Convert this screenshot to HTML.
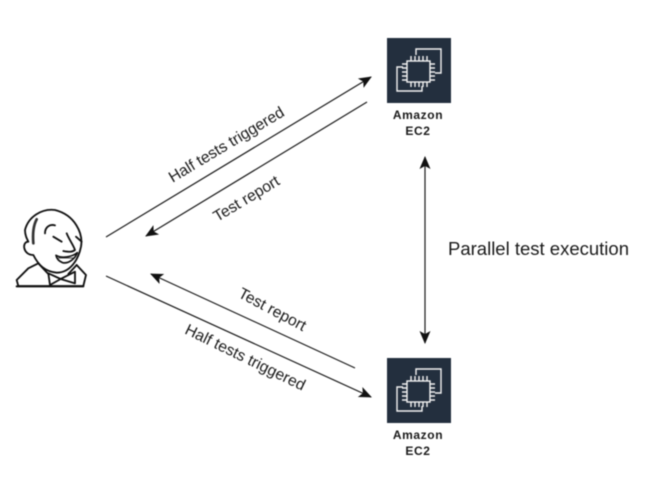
<!DOCTYPE html>
<html>
<head>
<meta charset="utf-8">
<style>
html,body{margin:0;padding:0;background:#fff;width:658px;height:495px;overflow:hidden}
svg{display:block;filter:blur(.5px)}
text{font-family:"Liberation Sans",sans-serif;fill:#1a1a1a}
</style>
</head>
<body>
<svg width="658" height="495" viewBox="0 0 658 495" xmlns="http://www.w3.org/2000/svg">
<defs>
<g id="ec2">
  <rect x="0" y="0" width="64" height="65" fill="#232f3e"/>
  <g fill="none" stroke="#f2f2f2" stroke-width="1.4">
    <path d="M29 17V11H54V35H48"/>
    <path d="M16 29H10V53H35V48"/>
    <rect x="20" y="23" width="23" height="21"/>
    <path d="M24 18v5M28 18v5M32 18v5M36 18v5M40 18v5M24 44v5M28 44v5M32 44v5M36 44v5M40 44v5M15 26h5M15 30h5M15 34h5M15 38h5M15 42h5M43 26h5M43 30h5M43 34h5M43 38h5M43 42h5"/>
  </g>
</g>
<marker id="a" markerWidth="14" markerHeight="12" refX="12" refY="6" orient="auto-start-reverse" markerUnits="userSpaceOnUse">
  <path d="M0 0.5L13 6L0 11.5L3 6Z" fill="#111"/>
</marker>
</defs>

<use href="#ec2" x="387" y="38"/>
<use href="#ec2" x="387" y="358"/>
<text x="418" y="119" text-anchor="middle" font-size="12" font-weight="700" letter-spacing=".6">Amazon</text>
<text x="418" y="135" text-anchor="middle" font-size="12" font-weight="700" letter-spacing=".6">EC2</text>
<text x="418" y="439" text-anchor="middle" font-size="12" font-weight="700" letter-spacing=".6">Amazon</text>
<text x="418" y="455" text-anchor="middle" font-size="12" font-weight="700" letter-spacing=".6">EC2</text>

<g stroke="#1a1a1a" stroke-width="1.2" fill="none">
  <line x1="106" y1="237" x2="371" y2="77" marker-end="url(#a)"/>
  <line x1="367" y1="102" x2="146" y2="236" marker-end="url(#a)"/>
  <line x1="355" y1="368" x2="151" y2="274" marker-end="url(#a)"/>
  <line x1="106" y1="276" x2="371" y2="397" marker-end="url(#a)"/>
  <line x1="425" y1="157" x2="425" y2="343" marker-start="url(#a)" marker-end="url(#a)"/>
</g>

<text font-size="15.7" text-anchor="middle" transform="translate(229,149) rotate(-31)">Half tests triggered</text>
<text font-size="15.7" text-anchor="middle" transform="translate(249,203) rotate(-31)">Test report</text>
<text font-size="15.7" text-anchor="middle" transform="translate(270,314) rotate(28)">Test report</text>
<text font-size="15.7" text-anchor="middle" transform="translate(243,362) rotate(26)">Half tests triggered</text>
<text x="448" y="255" font-size="18.5">Parallel test execution</text>

<g transform="translate(0,200) scale(.3333)" fill="none" stroke="#111" stroke-linecap="round" stroke-linejoin="round" stroke-width="5.5">
  <path d="M115 190L85 205L50 240L55 258H250L258 225L230 195" fill="#fff"/>
  <path d="M85 125C65 125 68 165 100 165C115 195 135 215 170 218C210 218 235 180 243 140C250 100 225 45 165 30C125 25 85 50 75 90C75 105 80 115 85 125Z" fill="#fff"/>
  <path d="M110 58C99 78 98 105 100 130" stroke-width="8" stroke="#333"/>
  <path d="M135 100C135 80 150 72 165 76"/>
  <path d="M160 110L185 125M228 110L245 125"/>
  <path d="M200 100C208 120 220 135 225 150C215 158 200 155 190 153"/>
  <path d="M168 166C185 176 215 172 232 158C226 176 205 192 188 188C177 184 170 176 168 166Z" stroke-width="5"/>
  <path d="M175 174H220" stroke-width="2.5"/>
  <path d="M145 220L150 255L182 237L225 250L225 215L182 237Z" fill="#fff"/>
  <path d="M115 190L145 222M205 222L230 195"/>
  <path d="M50 259H250" stroke-width="6"/>
</g>
</svg>
</body>
</html>
